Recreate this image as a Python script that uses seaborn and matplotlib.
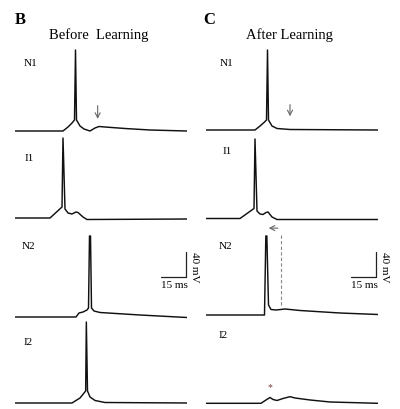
import matplotlib
matplotlib.use("Agg")
import matplotlib.pyplot as plt
import seaborn as sns

# Membrane potential traces: time (ms), voltage (mV)
before_n1_t = [0, 28.8, 31.8, 34.2, 35.7, 36.3, 36.9, 39.0, 41.4, 45.0, 48.0, 50.4, 54.0, 66.0, 81.0, 103.2]
before_n1_v = [-65, -65, -58.6, -52.2, -47.4, 64.6, -47.4, -57, -61.8, -65, -60.2, -57.8, -58.6, -61, -63.4, -65]

before_i1_t = [0, 21, 28.2, 28.8, 30, 31.8, 34.2, 36.6, 37.8, 40.8, 43.2, 75, 103.2]
before_i1_v = [-65, -65, -47.4, 63, -50.6, -57, -58.6, -55.4, -56.2, -63.4, -67.4, -67, -66.6]

before_n2_t = [0, 36.6, 38.4, 40.8, 43.2, 44.1, 44.7, 45.3, 45.9, 47.4, 51, 75, 103.2]
before_n2_v = [-65, -65, -58.6, -57, -53.8, -50.6, 64.6, 64.6, -50.6, -55.4, -57.8, -61.8, -65.8]

before_i2_t = [0, 34.2, 39, 42.4, 42.8, 43.5, 45, 48, 54, 103.2]
before_i2_v = [-65, -65, -57, -45.8, 64.6, -45.8, -55.4, -61, -64.2, -65]

after_n1_t = [0, 29.4, 32.4, 34.8, 36.3, 36.9, 37.5, 39.6, 42.6, 50.4, 103.2]
after_n1_v = [-65, -65, -58.6, -53, -49, 63, -49, -58.6, -62.6, -64.2, -65]

after_i1_t = [0, 20.4, 28.8, 29.4, 30.6, 32.4, 34.2, 36, 37.2, 39.6, 42.6, 103.2]
after_i1_v = [-65, -65, -49, 62.2, -53, -57.8, -58.6, -55.4, -54.6, -62.6, -66.6, -66.6]

after_n2_t = [0, 35.1, 35.9, 36.5, 37.5, 39, 42, 47.4, 56.4, 80.4, 103.2]
after_n2_v = [-65, -65, 61.4, 61.4, -49, -56.2, -57, -55.4, -57.8, -61.8, -64.2]

after_i2_t = [0, 33, 36, 38.4, 40.2, 42.6, 46.2, 50.4, 53.4, 62.4, 74.4, 103.2]
after_i2_v = [-65, -65, -59.7, -55.7, -58.9, -60.5, -57.3, -54.4, -56.5, -59.7, -62.9, -65]

row_names = ["N1", "I1", "N2", "I2"]
column_titles = ["Before  Learning", "After Learning"]
column_letters = ["B", "C"]
scale_ms = 15
scale_mv = 40

traces = [
    [(before_n1_t, before_n1_v), (before_i1_t, before_i1_v),
     (before_n2_t, before_n2_v), (before_i2_t, before_i2_v)],
    [(after_n1_t, after_n1_v), (after_i1_t, after_i1_v),
     (after_n2_t, after_n2_v), (after_i2_t, after_i2_v)],
]

# layout (pixels of the 400x409 image)
W, H = 400, 409
col_left = [15, 206]
baselines = [[131, 218, 317, 403], [130, 218.5, 315, 403.3]]
label_pos = [[(31, 63), (29, 158.5), (28, 246.5), (28, 342.5)],
             [(227, 63), (227, 151.5), (226, 246.5), (223, 335)]]
MS_PER_PX = 0.6
MV_PER_PX = 1.6
XMAX = 172 * MS_PER_PX
YLIM = (-70, 80)

sns.set_style("white")
plt.rcParams["font.family"] = ["Liberation Serif", "DejaVu Serif"]
plt.rcParams["text.color"] = "black"

fig = plt.figure(figsize=(4, 4.09), dpi=100)

axes = []
for c in range(2):
    col_axes = []
    for r in range(4):
        bottom_px = baselines[c][r] + (-65 - YLIM[0]) / MV_PER_PX
        height_px = (YLIM[1] - YLIM[0]) / MV_PER_PX
        ax = fig.add_axes([col_left[c] / W, 1 - bottom_px / H, 172 / W, height_px / H])
        t, v = traces[c][r]
        sns.lineplot(x=t, y=v, ax=ax, color="#111111", lw=1.05, sort=False, estimator=None)
        ax.set_xlim(0, XMAX)
        ax.set_ylim(*YLIM)
        ax.axis("off")
        col_axes.append(ax)
    axes.append(col_axes)

# titles and row labels
fig.text(20 / W, 1 - 20 / H, column_letters[0], fontsize=12, fontweight="bold", ha="center", va="center")
fig.text(209 / W, 1 - 20 / H, column_letters[1], fontsize=12, fontweight="bold", ha="center", va="center")
fig.text(99 / W, 1 - 35 / H, column_titles[0], fontsize=10.5, ha="center", va="center")
fig.text(289 / W, 1 - 35 / H, column_titles[1], fontsize=10.5, ha="center", va="center")
for c in range(2):
    for r in range(4):
        x, y = label_pos[c][r]
        fig.text(x / W, 1 - y / H, row_names[r], fontsize=8, ha="center", va="center")

# arrows on N1 traces
arrow_kw = dict(arrowstyle="->,head_length=0.35,head_width=0.18", color="#666666", lw=0.8)
axes[0][0].annotate("", xy=(49.6, -50), xytext=(49.6, -20), arrowprops=arrow_kw)
axes[1][0].annotate("", xy=(50.4, -47.5), xytext=(50.4, -20), arrowprops=arrow_kw)

# dashed marker and leftward arrow on N2 after learning
ax = axes[1][2]
ax.plot([44.8, 44.8], [-49, 66], ls=(0, (3, 2)), color="#888888", lw=0.8)
ax.annotate("", xy=(36, 74), xytext=(44.8, 74), arrowprops=arrow_kw, annotation_clip=False)

# asterisk on I2 after learning
axes[1][3].text(38.4, -40, "*", fontsize=7, color="#7a3b3b", ha="center", va="center")

# scale bars on N2 traces
for c, (corner_t, corner_v) in enumerate([(102.6, -1), (102, -4.2)]):
    ax = axes[c][2]
    ax.plot([corner_t - scale_ms, corner_t, corner_t], [corner_v, corner_v, corner_v + scale_mv],
            color="#222222", lw=0.9, clip_on=False)
    ax.text(corner_t - scale_ms / 2 + 0.3, corner_v - 14, f"{scale_ms} ms", fontsize=8,
            ha="center", va="center", clip_on=False)
    ax.text(corner_t + 5, corner_v + scale_mv / 2 - 4, f"{scale_mv} mV", fontsize=8,
            rotation=-90, ha="center", va="center", clip_on=False)

fig.savefig("out.png", dpi=100)
